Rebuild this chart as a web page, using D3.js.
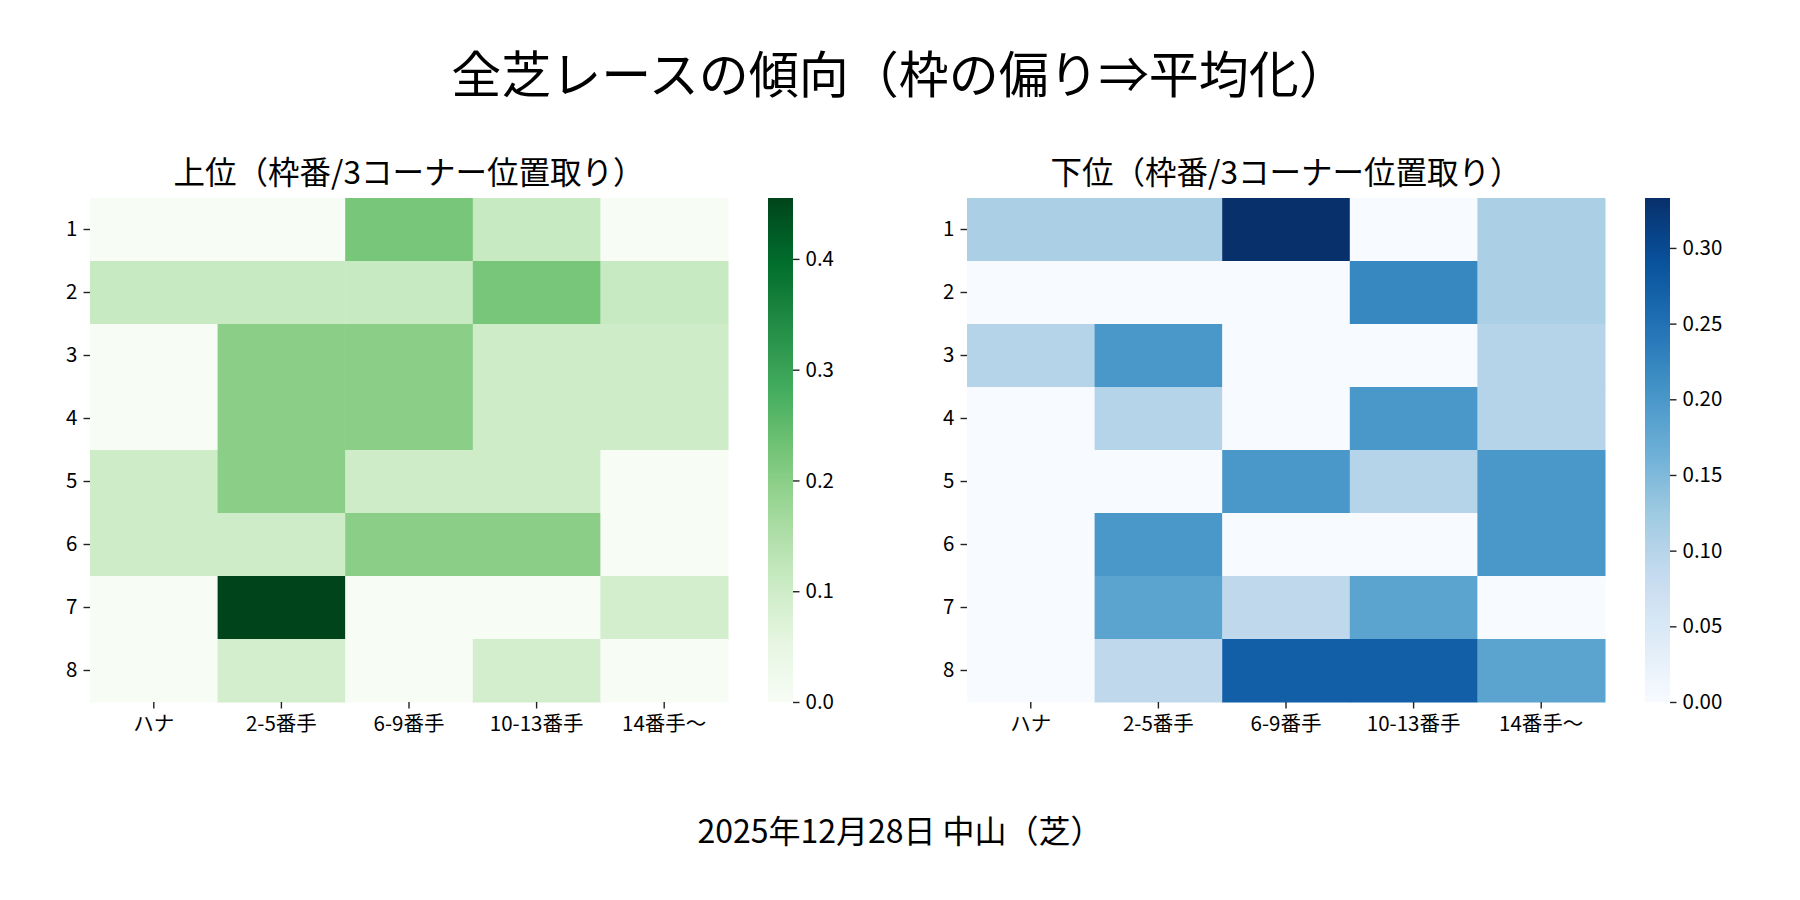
<!DOCTYPE html>
<html>
<head>
<meta charset="utf-8">
<script src="https://cdn.jsdelivr.net/npm/d3@7"></script>
<style>
  body { margin: 0; background: #fff; }
  svg text { font-family: "Noto Sans CJK JP", "Noto Sans", sans-serif; fill: #000; }
</style>
</head>
<body>
<svg id="chart" width="1800" height="900"></svg>
<script>
// rows = 枠番, columns = 3コーナー位置取り
var frames = ["1", "2", "3", "4", "5", "6", "7", "8"];
var positions = ["ハナ", "2-5番手", "6-9番手", "10-13番手", "14番手～"];

// 上位 rates
var upperRates = [
  [0,     0,     0.222, 0.111, 0    ],
  [0.111, 0.111, 0.111, 0.222, 0.111],
  [0,     0.2,   0.2,   0.1,   0.1  ],
  [0,     0.2,   0.2,   0.1,   0.1  ],
  [0.1,   0.2,   0.1,   0.1,   0    ],
  [0.1,   0.1,   0.2,   0.2,   0    ],
  [0,     0.455, 0,     0,     0.091],
  [0,     0.091, 0,     0.091, 0    ]
];

// 下位 rates
var lowerRates = [
  [0.111, 0.111, 0.333, 0,     0.111],
  [0,     0,     0,     0.222, 0.111],
  [0.1,   0.2,   0,     0,     0.1  ],
  [0,     0.1,   0,     0.2,   0.1  ],
  [0,     0,     0.2,   0.1,   0.2  ],
  [0,     0.2,   0,     0,     0.2  ],
  [0,     0.182, 0.091, 0.182, 0    ],
  [0,     0.091, 0.273, 0.273, 0.182]
];

var upperTicks = [0, 0.1, 0.2, 0.3, 0.4];
var lowerTicks = [0, 0.05, 0.10, 0.15, 0.20, 0.25, 0.30];

var svg = d3.select("#chart");

// title
svg.append("text")
  .attr("x", 900).attr("y", 93)
  .attr("text-anchor", "middle")
  .style("font-size", "50px")
  .text("全芝レースの傾向（枠の偏り⇒平均化）");

// date / course
svg.append("text")
  .attr("x", 900).attr("y", 843)
  .attr("text-anchor", "middle")
  .style("font-size", "32px")
  .text("2025年12月28日 中山（芝）");

function drawPanel(opt) {
  var top = 198, h = 504, w = 638;
  var g = svg.append("g").attr("transform", "translate(" + opt.left + "," + top + ")");

  var x = d3.scaleBand().domain(positions).range([0, w]);
  var y = d3.scaleBand().domain(frames).range([0, h]);

  var vmax = d3.max(opt.data, function(r) { return d3.max(r); });
  // matplotlib-style linear segmented colormap from the 9 brewer colors
  var stops = opt.scheme.map(function(c, i) { return vmax * i / (opt.scheme.length - 1); });
  var color = d3.scaleLinear().domain(stops).range(opt.scheme).interpolate(d3.interpolateRgb).clamp(true);

  var cells = [];
  opt.data.forEach(function(row, i) {
    row.forEach(function(v, j) {
      cells.push({ frame: frames[i], pos: positions[j], value: v });
    });
  });

  g.selectAll("rect.cell")
    .data(cells)
    .enter()
    .append("rect")
      .attr("class", "cell")
      .attr("x", function(d) { return x(d.pos); })
      .attr("y", function(d) { return y(d.frame); })
      .attr("width", x.bandwidth() + 0.5)
      .attr("height", y.bandwidth() + 0.5)
      .attr("fill", function(d) { return color(d.value); });

  // axes
  var xAxis = g.append("g")
    .attr("transform", "translate(0," + h + ")")
    .call(d3.axisBottom(x).tickSize(6.5).tickPadding(8));
  var yAxis = g.append("g")
    .call(d3.axisLeft(y).tickSize(6.5).tickPadding(6));

  [xAxis, yAxis].forEach(function(a) {
    a.select(".domain").remove();
    a.selectAll("line").attr("stroke", "#222").attr("stroke-width", 1.4);
    a.selectAll("text").style("font-size", "20.5px").attr("fill", "#000");
  });

  // title of panel
  g.append("text")
    .attr("x", w / 2).attr("y", -14)
    .attr("text-anchor", "middle")
    .style("font-size", "31.5px")
    .text(opt.title);

  // colorbar
  var cbx = w + 40, cbw = 25;
  var cy = d3.scaleLinear().domain([0, vmax]).range([h, 0]);
  var gradId = "grad" + opt.id;
  var grad = svg.append("defs").append("linearGradient")
    .attr("id", gradId)
    .attr("x1", 0).attr("y1", 1).attr("x2", 0).attr("y2", 0);
  d3.range(0, 1.0001, 0.02).forEach(function(t) {
    grad.append("stop")
      .attr("offset", t)
      .attr("stop-color", color(t * vmax));
  });
  g.append("rect")
    .attr("x", cbx).attr("y", 0)
    .attr("width", cbw).attr("height", h)
    .attr("fill", "url(#" + gradId + ")");

  var cAxis = g.append("g")
    .attr("transform", "translate(" + (cbx + cbw) + ",0)")
    .call(d3.axisRight(cy).tickValues(opt.ticks).tickFormat(d3.format(opt.fmt)).tickSize(6.5).tickPadding(6));
  cAxis.select(".domain").remove();
  cAxis.selectAll("line").attr("stroke", "#222").attr("stroke-width", 1.4);
  cAxis.selectAll("text").style("font-size", "20.5px").attr("fill", "#000");
}

drawPanel({
  id: "up", left: 90, data: upperRates, scheme: d3.schemeGreens[9],
  title: "上位（枠番/3コーナー位置取り）", ticks: upperTicks, fmt: ".1f"
});
drawPanel({
  id: "low", left: 967, data: lowerRates, scheme: d3.schemeBlues[9],
  title: "下位（枠番/3コーナー位置取り）", ticks: lowerTicks, fmt: ".2f"
});
</script>
</body>
</html>
